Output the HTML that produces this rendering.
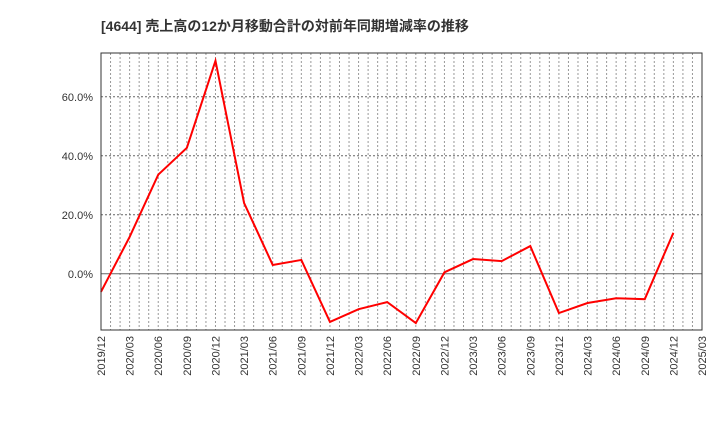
<!DOCTYPE html>
<html><head><meta charset="utf-8"><style>
body{margin:0;background:#fff}
svg text{font-family:"Liberation Sans","Noto Sans CJK JP",sans-serif}
</style></head><body>
<svg width="720" height="440">
<text x="101" y="31" font-size="14" font-weight="bold" fill="#333">[4644]  売上高の12か月移動合計の対前年同期増減率の推移</text>
<g id="grid"></g>
<g id="yt"></g>
<g id="xt"></g>
<polyline id="line" fill="none" stroke="#ff0000" stroke-width="2"/>
<rect x="101" y="53" width="601" height="277" fill="none" stroke="#333"/>
</svg>
<script>
const xLabels=["2019/12","2020/03","2020/06","2020/09","2020/12","2021/03","2021/06","2021/09","2021/12","2022/03","2022/06","2022/09","2022/12","2023/03","2023/06","2023/09","2023/12","2024/03","2024/06","2024/09","2024/12","2025/03"];
const values=[-6.1,12.5,33.6,42.7,72.2,24,3.0,4.7,-16.3,-12,-9.6,-16.7,0.5,5,4.3,9.4,-13.3,-9.9,-8.3,-8.6,13.9];
const yTicks=[0,20,40,60];
const L=101,R=702,T=53,B=330,ymin=-19.05,ymax=74.85;
const NS="http://www.w3.org/2000/svg";
const xq=i=>L+(R-L)*i/(xLabels.length-1);
const y=v=>B-(v-ymin)/(ymax-ymin)*(B-T);
function mk(t,a,p){const e=document.createElementNS(NS,t);for(const k in a)e.setAttribute(k,a[k]);p.appendChild(e);return e;}
const g=document.getElementById('grid'),yt=document.getElementById('yt'),xt=document.getElementById('xt');
const nM=(xLabels.length-1)*3;
for(let m=1;m<nM;m++){const x=L+(R-L)*m/nM;
const l=mk('line',{x1:x,x2:x,y1:T,y2:B,stroke:'#999','stroke-dasharray':'2,2'},g);

}
yTicks.forEach(v=>{const yy=y(v);
const l=mk('line',{x1:L,x2:R,y1:yy,y2:yy,stroke:v===0?'#666':'#666','stroke-dasharray':v===0?'none':'2,2'},g);


const t=mk('text',{x:L-8,y:yy+4,'text-anchor':'end','font-size':11,fill:'#333'},yt);t.textContent=v.toFixed(1)+'%';

});
xLabels.forEach((s,i)=>{const x=xq(i);
const t=mk('text',{x:x+4,y:B+6,'text-anchor':'end','font-size':11,fill:'#333',transform:`rotate(-90 ${x+4} ${B+6})`},xt);t.textContent=s;

});
document.getElementById('line').setAttribute('points',values.map((v,i)=>xq(i)+','+y(v)).join(' '));
</script>
</body></html>
